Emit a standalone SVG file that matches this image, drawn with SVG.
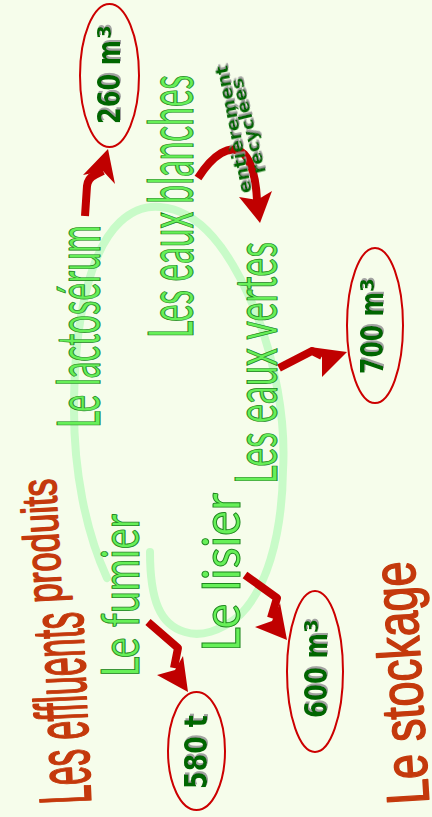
<svg xmlns="http://www.w3.org/2000/svg" width="432" height="817" viewBox="0 0 432 817">
  <defs>
    <filter id="shadow" x="-20%" y="-20%" width="140%" height="140%">
      <feDropShadow dx="2" dy="1" stdDeviation="0.7" flood-color="#9a9a9a" flood-opacity="0.9"/>
    </filter>
    <style>
      .bg { fill: #f6fdeb; }
      .cycle { fill: none; stroke: #c8fbc8; stroke-width: 8; stroke-linecap: round; }
      .item { font-family: Lato, "Open Sans", "Liberation Sans", sans-serif; font-weight: 400; fill: #66f058; stroke: #1e861e; stroke-width: 1; }
      .title { font-family: "Liberation Sans Narrow", "Liberation Sans", sans-serif; font-weight: normal; fill: #c4390c; stroke: #c4390c; stroke-width: 1.6; stroke-linejoin: round; }
      .qty { fill: none; stroke: #cc0000; stroke-width: 2; }
      .num { font-family: "DejaVu Sans", Verdana, sans-serif; font-weight: bold; fill: #006600; filter: url(#shadow); }
      .shaft { fill: none; stroke: #c00000; stroke-width: 8; stroke-linejoin: round; }
      .head { fill: #c00000; }
      .note { font-family: "DejaVu Sans", sans-serif; font-weight: bold; font-size: 18px; fill: #006600; filter: url(#shadow); }
    </style>
  </defs>

  <rect class="bg" x="0" y="0" width="432" height="817"/>

  <!-- recycling loop around the effluent sources -->
  <g id="cycle">
    <path class="cycle" d="M107,578 C85,530 74,470 74,410 C74,320 90,250 120,222 C135,208 148,206 160,207 C200,210 230,250 255,310 C275,360 286,420 283,470 C282,540 265,590 240,615 C220,632 200,637 185,632 C160,625 150,600 150,552"/>
  </g>

  <!-- headings -->
  <g id="title-effluents">
    <text class="title" font-size="74" textLength="192" lengthAdjust="spacingAndGlyphs" transform="translate(91,803) rotate(-92.5)">Les effluents</text>
    <text class="title" font-size="50" textLength="124" lengthAdjust="spacingAndGlyphs" transform="translate(62,602) rotate(-93)">produits</text>
  </g>
  <g id="title-stockage">
    <text class="title" font-size="60" textLength="243" lengthAdjust="spacingAndGlyphs" transform="translate(429,803) rotate(-93.5)">Le stockage</text>
  </g>

  <!-- effluent sources -->
  <g id="lactoserum">
    <text class="item" font-size="60" textLength="203" lengthAdjust="spacingAndGlyphs" transform="translate(100,428) rotate(-90)">Le lactosérum</text>
  </g>
  <g id="eaux-blanches">
    <text class="item" font-size="62" textLength="263" lengthAdjust="spacingAndGlyphs" transform="translate(193,338) rotate(-90)">Les eaux blanches</text>
  </g>
  <g id="eaux-vertes">
    <text class="item" font-size="58" textLength="242" lengthAdjust="spacingAndGlyphs" transform="translate(277,484) rotate(-90)">Les eaux vertes</text>
  </g>
  <g id="fumier">
    <text class="item" font-size="53" textLength="163" lengthAdjust="spacingAndGlyphs" transform="translate(139,677) rotate(-90)">Le fumier</text>
  </g>
  <g id="lisier">
    <text class="item" font-size="52" textLength="159" lengthAdjust="spacingAndGlyphs" transform="translate(240,652) rotate(-90)">Le lisier</text>
  </g>

  <!-- stored quantities -->
  <g id="q-260">
    <ellipse class="qty" cx="109.5" cy="75.5" rx="29.5" ry="71.5"/>
    <text class="num" font-size="32" textLength="84" lengthAdjust="spacingAndGlyphs" transform="translate(120,124) rotate(-90)">260 m</text>
    <text class="num" font-size="20" transform="translate(111,39) rotate(-90)">3</text>
  </g>
  <g id="q-700">
    <ellipse class="qty" cx="375" cy="325.5" rx="28" ry="77.5"/>
    <text class="num" font-size="32" textLength="82" lengthAdjust="spacingAndGlyphs" transform="translate(383,374) rotate(-90)">700 m</text>
    <text class="num" font-size="20" transform="translate(374,292) rotate(-90)">3</text>
  </g>
  <g id="q-580">
    <ellipse class="qty" cx="196.5" cy="751" rx="28.5" ry="59"/>
    <text class="num" font-size="32" textLength="74" lengthAdjust="spacingAndGlyphs" transform="translate(207,789) rotate(-90)">580 t</text>
  </g>
  <g id="q-600">
    <ellipse class="qty" cx="315" cy="671.5" rx="28" ry="80.5"/>
    <text class="num" font-size="32" textLength="85" lengthAdjust="spacingAndGlyphs" transform="translate(327,718) rotate(-90)">600 m</text>
    <text class="num" font-size="20" transform="translate(318,633) rotate(-90)">3</text>
  </g>

  <!-- arrows -->
  <g id="connectors">
    <path class="shaft" d="M85,216 L87,186 Q88,178 95,175 L103,171"/>
    <polygon class="head" points="108,149 115,184 103,171 83,175"/>

    <path class="shaft" d="M198,178 C212,156 230,142 244,154 C253,164 256,180 257,200"/>
    <polygon class="head" points="260,223 239,197 257,200 272,191"/>

    <path class="shaft" d="M279,368 L312,351 L322,356"/>
    <polygon class="head" points="347,352 322,377 322,357 310,347"/>

    <path class="shaft" d="M148,622 L178,648 L174,668"/>
    <polygon class="head" points="188,692 157,675 175,670 183,656"/>

    <path class="shaft" d="M245,575 L277,598 L271,618"/>
    <polygon class="head" points="287,640 255,627 272,621 280,603"/>
  </g>

  <g id="label-recyclees">
    <text class="note" textLength="130" lengthAdjust="spacingAndGlyphs" transform="translate(252,192) rotate(-101)">entièrement</text>
    <text class="note" textLength="98" lengthAdjust="spacingAndGlyphs" transform="translate(266,172) rotate(-104)">recyclées</text>
  </g>
</svg>
